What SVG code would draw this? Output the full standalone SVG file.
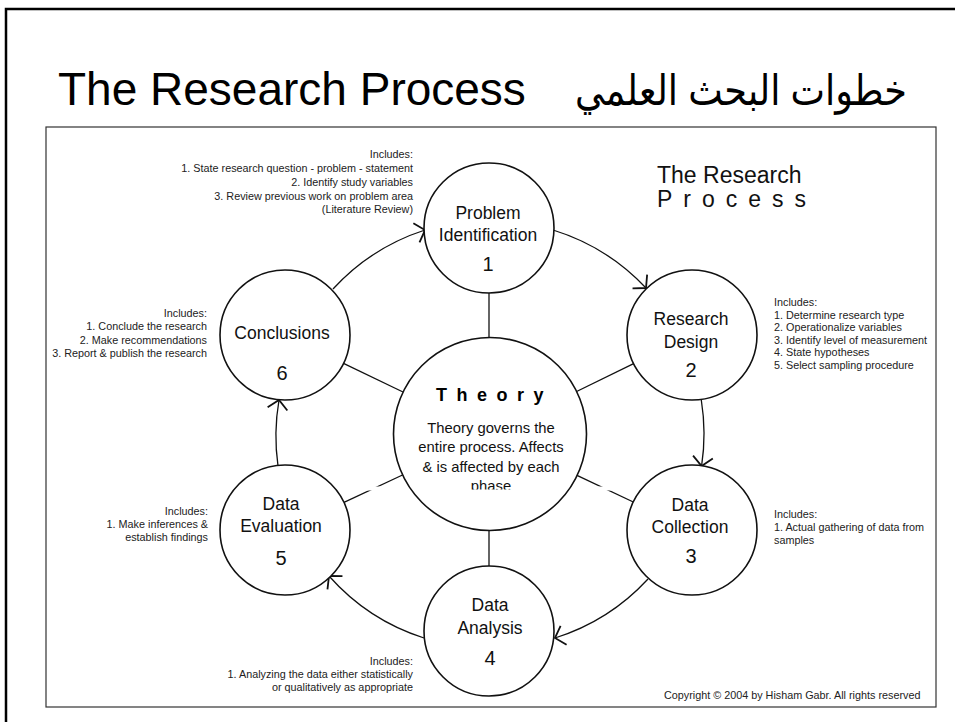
<svg xmlns="http://www.w3.org/2000/svg" width="955" height="722" viewBox="0 0 955 722">
<style>
  .sans { font-family: "Liberation Sans", "DejaVu Sans", Arial, sans-serif; }
  .node circle { fill: #fff; stroke: #111; stroke-width: 1.6; }
  .lbl { font-family: "Liberation Sans", Arial, sans-serif; font-size: 17.5px; fill: #111; text-anchor: middle; }
  .num { font-family: "Liberation Sans", Arial, sans-serif; font-size: 20px; fill: #111; text-anchor: middle; }
  .note { font-family: "Liberation Sans", Arial, sans-serif; font-size: 10.8px; fill: #222; }
  .r { text-anchor: end; }
  .conn path, .conn line { fill: none; stroke: #111; stroke-width: 1.3; }
  .th { font-family: "Liberation Sans", Arial, sans-serif; font-size: 14.8px; fill: #111; text-anchor: middle; }
</style>
<defs>
  <marker id="chev" markerUnits="userSpaceOnUse" viewBox="-12 -12 14 24" refX="0" refY="0" markerWidth="14" markerHeight="24" orient="auto" overflow="visible">
    <path d="M-9,-10 L0,0 L-9,10" fill="none" stroke="#111" stroke-width="1.8"/>
  </marker>
  <mask id="gap" maskUnits="userSpaceOnUse" x="0" y="0" width="955" height="722">
    <rect x="0" y="0" width="955" height="722" fill="#fff"/>
    <rect x="355" y="486.5" width="275" height="4" fill="#000"/>
  </mask>
  <clipPath id="cut"><rect x="380" y="380" width="230" height="109.5"/></clipPath>
</defs>

<rect x="0" y="0" width="955" height="722" fill="#fff"/>
<rect x="6" y="9" width="1000" height="800" fill="none" stroke="#000" stroke-width="2.5"/>

<g id="title">
  <text class="sans" x="58" y="105" font-size="46" fill="#000">The Research Process</text>
  <text class="sans" x="907" y="105" font-size="42" fill="#000" text-anchor="end" textLength="332" lengthAdjust="spacingAndGlyphs">خطوات البحث العلمي</text>
</g>

<rect x="46" y="127" width="890" height="580" fill="#fff" stroke="#333" stroke-width="1.2"/>

<g id="figure-title">
  <text class="sans" x="657" y="183" font-size="23" fill="#111">The Research</text>
  <text class="sans" x="657" y="207" font-size="23" fill="#111" letter-spacing="11">Process</text>
</g>

<g id="connectors" class="conn" mask="url(#gap)">
  <path d="M333,289 A214,214 0 0 1 425,230" marker-end="url(#chev)"/>
  <path d="M553,230 A214,214 0 0 1 646,288" marker-end="url(#chev)"/>
  <path d="M701.3,400 A214,214 0 0 1 701.6,466" marker-end="url(#chev)"/>
  <path d="M648,579 A214,214 0 0 1 555,638" marker-end="url(#chev)"/>
  <path d="M424,638 A214,214 0 0 1 329,576" marker-end="url(#chev)"/>
  <path d="M278,466 A214,214 0 0 1 279,400" marker-end="url(#chev)"/>
  <line x1="489" y1="293" x2="489" y2="338"/>
  <line x1="576.6" y1="391.5" x2="633.6" y2="363.6"/>
  <line x1="577" y1="475.4" x2="633.3" y2="502"/>
  <line x1="489" y1="530" x2="489" y2="567"/>
  <line x1="402.5" y1="475" x2="344" y2="502.4"/>
  <line x1="403" y1="392" x2="343.5" y2="363.3"/>
</g>

<g id="theory" class="node">
  <circle cx="490" cy="434" r="96.5"/>
  <text class="sans" x="436" y="401" font-size="18" font-weight="bold" fill="#000" letter-spacing="9.5">Theory</text>
  <text class="th" x="491" y="433">Theory governs the</text>
  <text class="th" x="491" y="452">entire process. Affects</text>
  <text class="th" x="491" y="472">&amp; is affected by each</text>
  <text class="th" x="491" y="491" clip-path="url(#cut)">phase</text>
</g>

<g id="problem-identification" class="node">
  <circle cx="489" cy="228" r="65"/>
  <text class="lbl" x="488" y="219">Problem</text>
  <text class="lbl" x="488" y="241">Identification</text>
  <text class="num" x="488" y="271">1</text>
</g>

<g id="research-design" class="node">
  <circle cx="692" cy="335" r="65"/>
  <text class="lbl" x="691" y="325">Research</text>
  <text class="lbl" x="691" y="348">Design</text>
  <text class="num" x="691" y="377">2</text>
</g>

<g id="data-collection" class="node">
  <circle cx="692" cy="530" r="65"/>
  <text class="lbl" x="690" y="511">Data</text>
  <text class="lbl" x="690" y="533">Collection</text>
  <text class="num" x="691" y="563">3</text>
</g>

<g id="data-analysis" class="node">
  <circle cx="489" cy="631" r="65"/>
  <text class="lbl" x="490" y="611">Data</text>
  <text class="lbl" x="490" y="634">Analysis</text>
  <text class="num" x="490" y="665">4</text>
</g>

<g id="data-evaluation" class="node">
  <circle cx="285" cy="530" r="65"/>
  <text class="lbl" x="281" y="510">Data</text>
  <text class="lbl" x="281" y="532">Evaluation</text>
  <text class="num" x="281" y="565">5</text>
</g>

<g id="conclusions" class="node">
  <circle cx="285" cy="335" r="65"/>
  <text class="lbl" x="282" y="339">Conclusions</text>
  <text class="num" x="282" y="380">6</text>
</g>

<g id="notes-1" class="note r">
  <text x="413" y="158">Includes:</text>
  <text x="413" y="172">1. State research question - problem - statement</text>
  <text x="413" y="186">2. Identify study variables</text>
  <text x="413" y="200">3. Review previous work on problem area</text>
  <text x="413" y="213">(Literature Review)</text>
</g>

<g id="notes-2" class="note">
  <text x="774" y="306">Includes:</text>
  <text x="774" y="318.5">1. Determine research type</text>
  <text x="774" y="331">2. Operationalize variables</text>
  <text x="774" y="343.5">3. Identify level of measurement</text>
  <text x="774" y="356">4. State hypotheses</text>
  <text x="774" y="368.5">5. Select sampling procedure</text>
</g>

<g id="notes-3" class="note">
  <text x="774" y="518">Includes:</text>
  <text x="774" y="531">1. Actual gathering of data from</text>
  <text x="774" y="544">samples</text>
</g>

<g id="notes-4" class="note r">
  <text x="413" y="665">Includes:</text>
  <text x="413" y="678">1. Analyzing the data either statistically</text>
  <text x="413" y="691">or qualitatively as appropriate</text>
</g>

<g id="notes-5" class="note r">
  <text x="208" y="515">Includes:</text>
  <text x="208" y="528">1. Make inferences &amp;</text>
  <text x="208" y="541">establish findings</text>
</g>

<g id="notes-6" class="note r">
  <text x="207" y="317">Includes:</text>
  <text x="207" y="330">1. Conclude the research</text>
  <text x="207" y="344">2. Make recommendations</text>
  <text x="207" y="357">3. Report &amp; publish the research</text>
</g>

<text class="note" x="664" y="699">Copyright © 2004 by Hisham Gabr. All rights reserved</text>
</svg>
